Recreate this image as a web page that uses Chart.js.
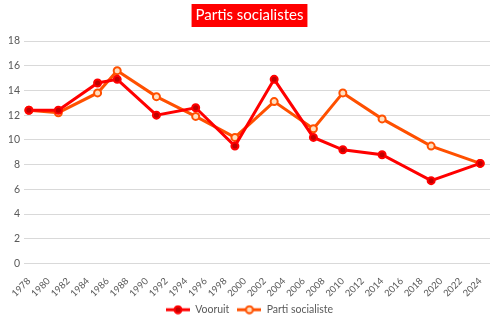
<!DOCTYPE html>
<html lang="fr">
<head>
<meta charset="UTF-8">
<title>Partis socialistes</title>
<script src="https://cdn.jsdelivr.net/npm/chart.js"></script>
<style>
  body { margin: 0; background: #fff; }
  #wrap { width: 500px; height: 325px; }
</style>
</head>
<body>
<div id="wrap"><canvas id="myChart" width="500" height="325"></canvas></div>
<script>
// election years
const years = [1978, 1981, 1985, 1987, 1991, 1995, 1999, 2003, 2007, 2010, 2014, 2019, 2024];
// Vooruit (SP / SP.a)
const vooruit = [12.4, 12.4, 14.6, 14.9, 12.0, 12.6, 9.5, 14.9, 10.2, 9.2, 8.8, 6.7, 8.1];
// Parti socialiste
const partiSocialiste = [12.4, 12.2, 13.8, 15.6, 13.5, 11.9, 10.2, 13.1, 10.9, 13.8, 11.7, 9.5, 8.1];
// x axis tick labels
const tickYears = [1978, 1980, 1982, 1984, 1986, 1988, 1990, 1992, 1994, 1996, 1998, 2000,
  2002, 2004, 2006, 2008, 2010, 2012, 2014, 2016, 2018, 2020, 2022, 2024];
const yTicks = [0, 2, 4, 6, 8, 10, 12, 14, 16, 18];

const RED = '#FF0000';
const ORANGE = '#FF5000';
const FONT = 'Lato, "Open Sans", sans-serif';

function toPoints(vals) {
  return years.map((y, i) => ({ x: y, y: vals[i] }));
}

// little line+marker picture for the legend
function legendIcon(line, fill) {
  const c = document.createElement('canvas');
  c.width = 24; c.height = 10;
  const ctx = c.getContext('2d');
  ctx.strokeStyle = line;
  ctx.lineWidth = 3;
  ctx.beginPath(); ctx.moveTo(0, 5); ctx.lineTo(24, 5); ctx.stroke();
  ctx.beginPath(); ctx.arc(12, 5, 3.5, 0, Math.PI * 2);
  ctx.fillStyle = fill; ctx.fill();
  ctx.lineWidth = 2; ctx.stroke();
  return c;
}

// red box behind the title
const titleBox = {
  id: 'titleBox',
  beforeDraw(chart) {
    const tb = chart.titleBlock;
    if (!tb) return;
    const ctx = chart.ctx;
    ctx.save();
    ctx.font = '15px ' + FONT;
    const w = ctx.measureText(chart.options.plugins.title.text).width + 8;
    const cx = tb.left + tb.width / 2;
    ctx.fillStyle = '#FF0000';
    ctx.fillRect(cx - w / 2, 4, w, 23);
    ctx.restore();
  }
};

new Chart(document.getElementById('myChart'), {
  type: 'line',
  data: {
    datasets: [{
      label: 'Vooruit',
      data: toPoints(vooruit),
      borderColor: RED,
      backgroundColor: '#C00000',
      borderWidth: 3,
      pointRadius: 3.5,
      pointBorderWidth: 2,
      pointBorderColor: RED,
      pointBackgroundColor: '#C00000',
      pointStyleIcon: legendIcon(RED, '#C00000')
    }, {
      label: 'Parti socialiste',
      data: toPoints(partiSocialiste),
      borderColor: ORANGE,
      backgroundColor: '#FFFFFF',
      borderWidth: 3,
      pointRadius: 3.5,
      pointBorderWidth: 2,
      pointBorderColor: ORANGE,
      pointBackgroundColor: '#FFE0C0',
      pointStyleIcon: legendIcon(ORANGE, '#FFE0C0')
    }]
  },
  options: {
    responsive: false,
    animation: false,
    layout: { padding: { left: 9, right: 10, top: 0, bottom: 0 } },
    scales: {
      x: {
        type: 'linear',
        min: 1977.5,
        max: 2025,
        afterBuildTicks(scale) { scale.ticks = tickYears.map(v => ({ value: v })); },
        afterFit(scale) { scale.height = 33; },
        grid: { display: false },
        border: { display: false },
        ticks: {
          autoSkip: false,
          minRotation: 45, maxRotation: 45,
          color: '#595959',
          font: { family: FONT, size: 9.5 },
          padding: 4,
          callback: v => String(v)
        }
      },
      y: {
        min: 0, max: 18,
        afterBuildTicks(scale) { scale.ticks = yTicks.map(v => ({ value: v })); },
        afterFit(scale) { scale.width = 15; },
        grid: { color: '#D9D9D9', lineWidth: 1, drawTicks: false },
        border: { display: false },
        ticks: {
          color: '#595959',
          font: { family: FONT, size: 10.5 },
          padding: 4
        }
      }
    },
    plugins: {
      title: {
        display: true,
        text: 'Partis socialistes',
        color: '#FFFFFF',
        font: { family: FONT, size: 15, weight: 'normal' },
        padding: { top: 6, bottom: 17 }
      },
      legend: {
        position: 'bottom',
        labels: {
          usePointStyle: true,
          pointStyleWidth: 24,
          color: '#595959',
          font: { family: FONT, size: 10.5 },
          padding: 8,
          generateLabels(chart) {
            return chart.data.datasets.map((ds, i) => ({
              text: ds.label,
              pointStyle: ds.pointStyleIcon,
              fillStyle: ds.borderColor,
              strokeStyle: ds.borderColor,
              lineWidth: 0,
              fontColor: '#595959',
              hidden: !chart.isDatasetVisible(i),
              datasetIndex: i
            }));
          }
        }
      },
      tooltip: { enabled: false }
    }
  },
  plugins: [titleBox]
});
</script>
</body>
</html>
